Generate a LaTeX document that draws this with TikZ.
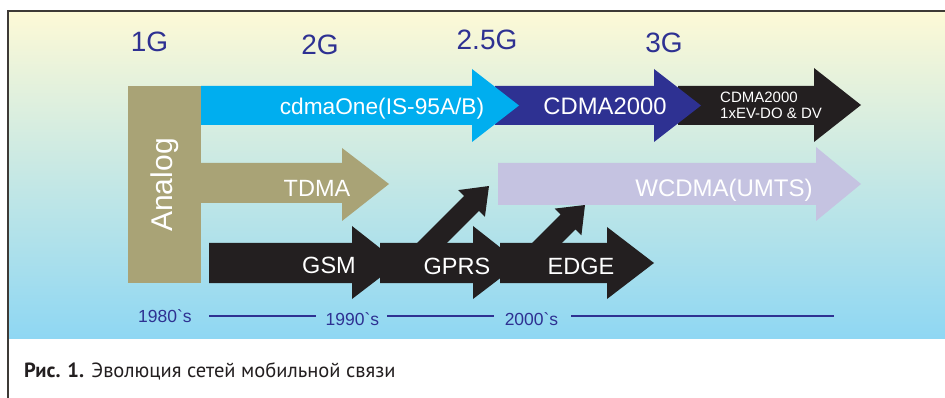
\documentclass[tikz,border=0pt]{standalone}
\usepackage{fontspec}
\setmainfont{Liberation Sans}
\newfontfamily\capfont{PT Sans}
\definecolor{genblue}{RGB}{46,49,146}
\definecolor{cyanc}{RGB}{0,174,239}
\definecolor{dblue}{RGB}{46,49,146}
\definecolor{blk}{RGB}{35,31,32}
\definecolor{olivec}{RGB}{169,163,118}
\definecolor{lav}{RGB}{197,195,225}
\definecolor{bordergray}{RGB}{62,58,54}
\definecolor{gtop}{RGB}{253,249,214}
\definecolor{gmid}{RGB}{214,236,226}
\definecolor{gbot}{RGB}{143,215,243}
\definecolor{capgray}{RGB}{35,31,32}
\begin{document}
\begin{tikzpicture}[x=1pt,y=-1pt,
  gen/.style={inner sep=0,anchor=base,text=genblue,font=\fontsize{28}{28}\selectfont},
  lbl/.style={inner sep=0,anchor=base,text=white,font=\fontsize{23.5}{23.5}\selectfont},
  yr/.style={inner sep=0,anchor=base,text=genblue,font=\fontsize{17.5}{17.5}\selectfont},
  tl/.style={draw=genblue,line width=2.5pt}]
\useasboundingbox (0,0) rectangle (945,398);
\fill[white] (0,0) rectangle (945,398);
\shade[top color=gtop,middle color=gmid,bottom color=gbot] (8,11) rectangle (945,338);
\draw[bordergray,line width=2pt] (945,11) -- (8,11) -- (8,398);

% generation labels
\node[gen] (g1) at (149.5,52) {1G};
\node[gen] (g2) at (320,55) {2G};
\node[gen] (g25) at (487,50) {2.5G};
\node[gen] (g3) at (664,53) {3G};

% Analog + TDMA
\fill[olivec] (128,86) rectangle (201,283);
\fill[olivec] (200,163) -- (342,163) -- (342,148) -- (389,184) -- (342,221) -- (342,203) -- (200,203) -- cycle;

% top row arrows
\fill[blk] (678,86) -- (814,86) -- (814,68) -- (861,105) -- (814,142) -- (814,125) -- (678,125) -- cycle;
\fill[dblue] (495,86) -- (654,86) -- (654,69) -- (701,105.5) -- (654,142) -- (654,125) -- (495,125) -- cycle;
\fill[cyanc] (201,86) -- (472,86) -- (472,69) -- (519,105.5) -- (472,142) -- (472,125) -- (201,125) -- cycle;

% WCDMA
\fill[lav] (498,163) -- (816,163) -- (816,147) -- (861,184) -- (816,221) -- (816,205) -- (498,205) -- cycle;

% GSM chain
\fill[blk] (209,243) -- (352,243) -- (352,226) -- (399,263) -- (352,299) -- (352,283) -- (209,283) -- cycle;
\fill[blk] (380,243) -- (473,243) -- (473,226) -- (520,263) -- (473,299) -- (473,283) -- (380,283) -- cycle;
\fill[blk] (500,243) -- (607,243) -- (607,227) -- (654,263) -- (607,299) -- (607,283) -- (500,283) -- cycle;
% diagonal arrows
\fill[blk] (410.2,250) -- (464.1,196.1) -- (458.1,190.1) -- (489,186) -- (484.9,216.9) -- (478.9,210.9) -- (439.8,250) -- cycle;
\fill[blk] (525.2,250) -- (560.6,214.6) -- (554.6,208.6) -- (585,205) -- (581.4,235.4) -- (575.4,229.4) -- (554.8,250) -- cycle;

% labels
\node[inner sep=0,anchor=base,text=white,rotate=90,font=\fontsize{30}{30}\selectfont] (an) at (172,185) {Analog};
\node[lbl] (tdma) at (317,197) {TDMA};
\node[lbl,font=\fontsize{22.7}{22.7}\selectfont] (cone) at (382,115) {cdmaOne(IS-95A/B)};
\node[lbl,font=\fontsize{23.8}{23.8}\selectfont] (c2k) at (605,115) {CDMA2000};
\node[inner sep=0,anchor=base west,text=white,font=\fontsize{15}{16.7}\selectfont,align=left] (evdo) at (720,119) {CDMA2000\\1xEV-DO \& DV};
\node[lbl,font=\fontsize{24}{24}\selectfont] (wc) at (724,197) {WCDMA(UMTS)};
\node[lbl] (gsm) at (329,273) {GSM};
\node[lbl] (gprs) at (457,274) {GPRS};
\node[lbl] (edge) at (581,274) {EDGE};

% timeline
\node[yr] (y80) at (165,322) {1980\textasciigrave s};
\node[yr] (y90) at (352.5,325) {1990\textasciigrave s};
\node[yr] (y00) at (531.5,325) {2000\textasciigrave s};
\coordinate (l1a) at (209,316); \coordinate (l1b) at (316,316);
\coordinate (l2a) at (387,316); \coordinate (l2b) at (494,316);
\coordinate (l3a) at (571,316); \coordinate (l3b) at (834,316);
\draw[tl] (l1a) -- (l1b);
\draw[tl] (l2a) -- (l2b);
\draw[tl] (l3a) -- (l3b);

% caption
\node[inner sep=0,anchor=base west,text=capgray,font=\capfont\fontsize{20.5}{20.5}\selectfont] (cap) at (24,377) {\textbf{Рис. 1.} Эволюция сетей мобильной связи};
\end{tikzpicture}
\end{document}
